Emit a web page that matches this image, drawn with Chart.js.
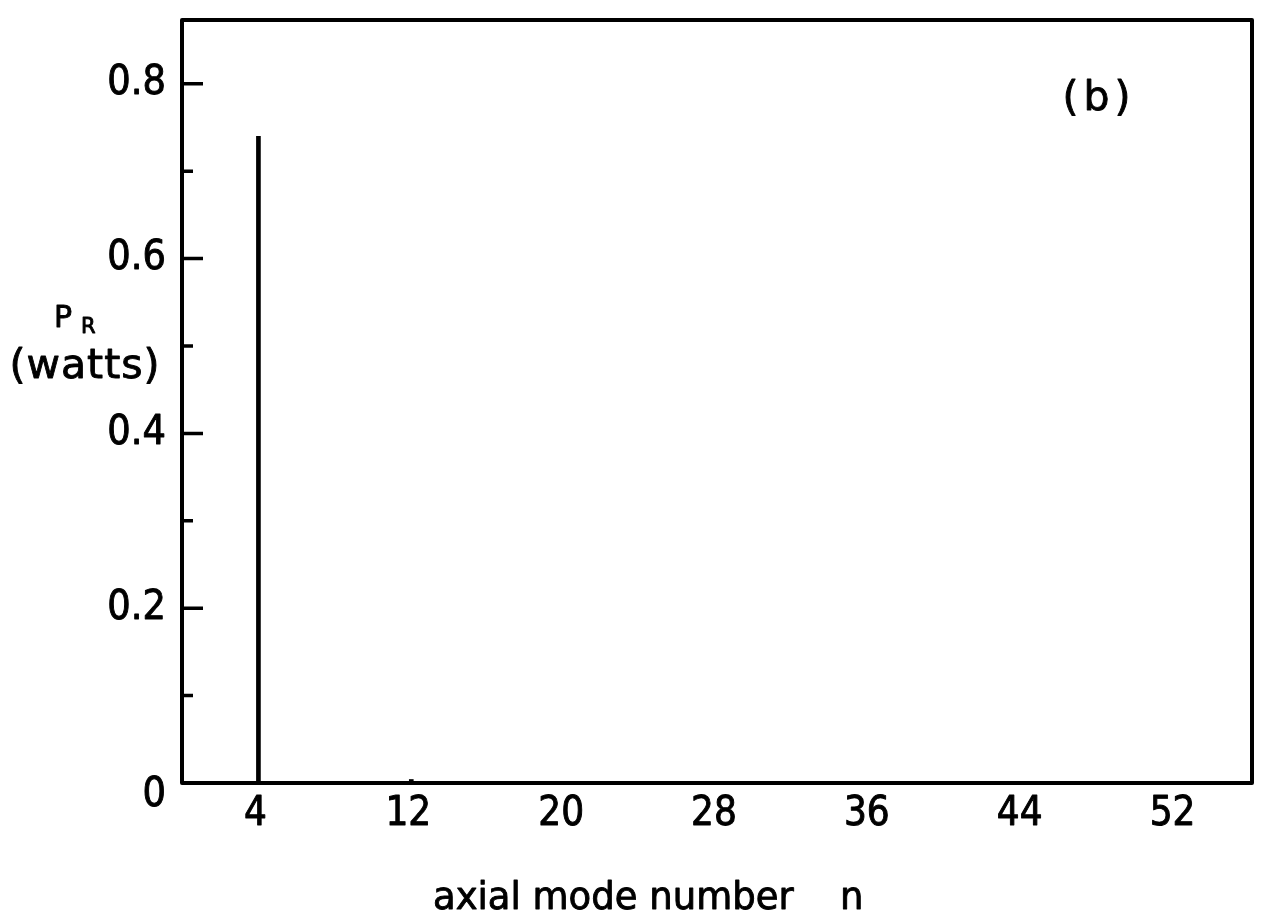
<!DOCTYPE html>
<html>
<head>
<meta charset="utf-8">
<script src="https://cdn.jsdelivr.net/npm/chart.js@4"></script>
<style>
  body { margin: 0; background: #fff; }
  #wrap { width: 1263px; height: 923px; }
</style>
</head>
<body>
<div id="wrap"><canvas id="chart" width="1263" height="923"></canvas></div>
<script>
// axial mode number n and radiated power P_R (watts)
const modeNumbers = [4, 12];
const powerWatts = [0.74, 0.004];

const xTickValues = [4, 12, 20, 28, 36, 44, 52];
const yTickValues = [0, 0.2, 0.4, 0.6, 0.8];
const yTickLabels = ['0', '0.2', '0.4', '0.6', '0.8'];
const yMinorTicks = [0.1, 0.3, 0.5, 0.7];

const numFont = '"DejaVu Sans Condensed", "DejaVu Sans", sans-serif';
const textFont = '"DejaVu Sans", sans-serif';

// fill plus a thin stroke so the lettering looks as heavy as the scan
function heavyText(ctx, txt, x, y) {
    ctx.fillText(txt, x, y);
    ctx.strokeText(txt, x, y);
}

// draws the frame, inward ticks and all text
const framePlugin = {
    id: 'frame',
    afterDraw(chart) {
        const ctx = chart.ctx;
        const area = chart.chartArea;
        const xs = chart.scales.x;
        const ys = chart.scales.y;
        ctx.save();
        ctx.strokeStyle = '#000';
        ctx.fillStyle = '#000';
        ctx.lineWidth = 4;
        ctx.lineJoin = 'round';
        ctx.strokeRect(area.left, area.top, area.right - area.left, area.bottom - area.top);

        // y ticks pointing into the plot
        ctx.lineWidth = 3.5;
        ctx.beginPath();
        yTickValues.forEach(v => {
            if (v === 0) return;
            const y = ys.getPixelForValue(v);
            ctx.moveTo(area.left, y);
            ctx.lineTo(area.left + 21, y);
        });
        yMinorTicks.forEach(v => {
            const y = ys.getPixelForValue(v);
            ctx.moveTo(area.left, y);
            ctx.lineTo(area.left + 11, y);
        });
        ctx.stroke();

        ctx.lineWidth = 0.9;
        ctx.font = '41px ' + numFont;
        ctx.textAlign = 'right';
        ctx.textBaseline = 'middle';
        yTickValues.forEach((v, i) => {
            let y = ys.getPixelForValue(v);
            if (v === 0) y += 12;
            heavyText(ctx, yTickLabels[i], 166, y);
        });

        ctx.font = '40px ' + numFont;
        ctx.textAlign = 'center';
        ctx.textBaseline = 'top';
        xTickValues.forEach(v => {
            heavyText(ctx, String(v), xs.getPixelForValue(v) - 3, area.bottom + 12);
        });

        // axis titles
        ctx.font = '37px ' + textFont;
        ctx.textAlign = 'left';
        ctx.textBaseline = 'alphabetic';
        heavyText(ctx, 'axial mode number', 433, 909);
        heavyText(ctx, 'n', 840, 909);

        ctx.font = '30px ' + textFont;
        heavyText(ctx, 'P', 54, 327);
        ctx.font = '21px ' + textFont;
        heavyText(ctx, 'R', 81, 333);
        ctx.font = '41px ' + textFont;
        ctx.textAlign = 'center';
        ctx.letterSpacing = '1px';
        heavyText(ctx, '(watts)', 85, 378);

        ctx.letterSpacing = '5px';
        heavyText(ctx, '(b)', 1099, 110);
        ctx.restore();
    }
};

new Chart(document.getElementById('chart'), {
    type: 'bar',
    data: {
        datasets: [{
            data: modeNumbers.map((n, i) => ({ x: n, y: powerWatts[i] })),
            backgroundColor: '#000',
            borderWidth: 0,
            barThickness: 4
        }]
    },
    options: {
        responsive: false,
        animation: false,
        devicePixelRatio: 1,
        layout: { padding: { left: 182, right: 11, top: 20, bottom: 140 } },
        plugins: { legend: { display: false }, tooltip: { enabled: false } },
        scales: {
            x: { type: 'linear', min: 0, max: 56, offset: false, display: false },
            y: { min: 0, max: 0.873, display: false }
        }
    },
    plugins: [framePlugin]
});
</script>
</body>
</html>
